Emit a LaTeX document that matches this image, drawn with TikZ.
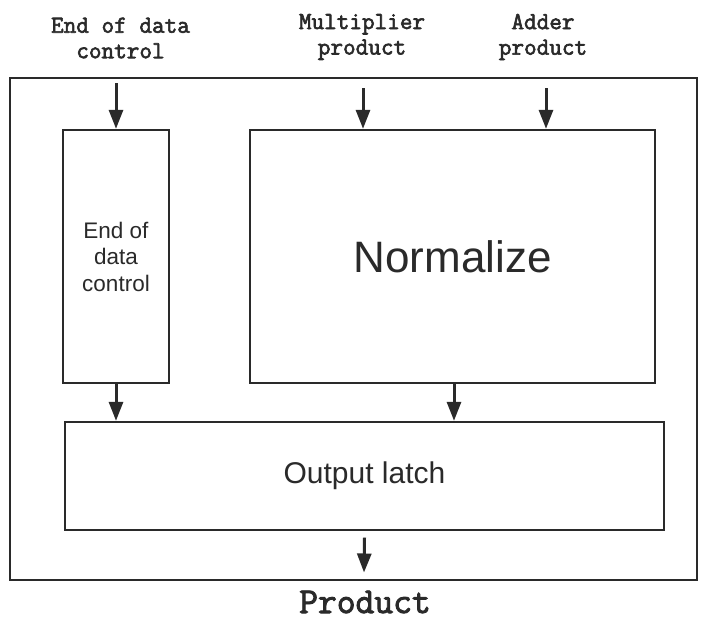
\documentclass[tikz,border=0pt]{standalone}
\usepackage{fontspec}
\setmainfont{Liberation Sans}
\setmonofont[FakeBold=2.5]{Latin Modern Mono}
\usetikzlibrary{arrows.meta}
\definecolor{ink}{HTML}{2A2A2A}
\tikzset{
  box/.style={draw=ink, line width=1.4pt, rectangle, inner sep=0pt, align=center, text=ink},
  flow/.style={draw=ink, line width=3pt, -{Triangle[width=14pt,length=19pt]}, fill=ink, shorten >=0.5pt},
  sig/.style={font=\ttfamily\fontsize{24.5}{25.5}\selectfont, align=center, text=ink, inner sep=0pt}
}
\begin{document}
\begin{tikzpicture}[x=1pt,y=-1pt]
\useasboundingbox[fill=white] (0,0) rectangle (707,619);

% enclosing frame
\node[box, minimum width=687pt, minimum height=502pt] (frame) at (353.5,329) {};

% blocks
\node[box, minimum width=106pt, minimum height=253pt,
      font=\fontsize{22.5}{26.5}\selectfont] (eod) at (116,256.5) {End of\\data\\control};
\node[box, minimum width=405pt, minimum height=253pt,
      font=\fontsize{44}{50}\selectfont] (norm) at (452.5,256.5) {Normalize};
\node[box, minimum width=599pt, minimum height=108pt,
      font=\fontsize{30}{34}\selectfont] (latch) at (364.5,476) {Output latch};

% incoming signal labels
\node[sig] (lab1) at (120.5,38) {End of data\\control};
\node[sig] (lab2) at (362,37) {Multiplier\\product};
\node[sig] (lab3) at (543,37) {Adder\\product};
\node[sig, font=\ttfamily\fontsize{36.5}{40}\selectfont] (lab4) at (365,602) {Product};

% arrow end points
\coordinate (in1) at (116,83);
\coordinate (in2) at (363,88);
\coordinate (in3) at (546,88);
\coordinate (out) at (364,573);

% connectors
\draw[flow] (in1) -- (eod.north);
\draw[flow] (in2) -- (in2 |- norm.north);
\draw[flow] (in3) -- (in3 |- norm.north);
\draw[flow] (eod.south) -- (eod.south |- latch.north);
\draw[flow] ([xshift=1.5pt]norm.south) -- ([xshift=1.5pt]norm.south |- latch.north);
\draw[flow] ([yshift=-7pt]latch.south) -- (out);
\end{tikzpicture}
\end{document}
